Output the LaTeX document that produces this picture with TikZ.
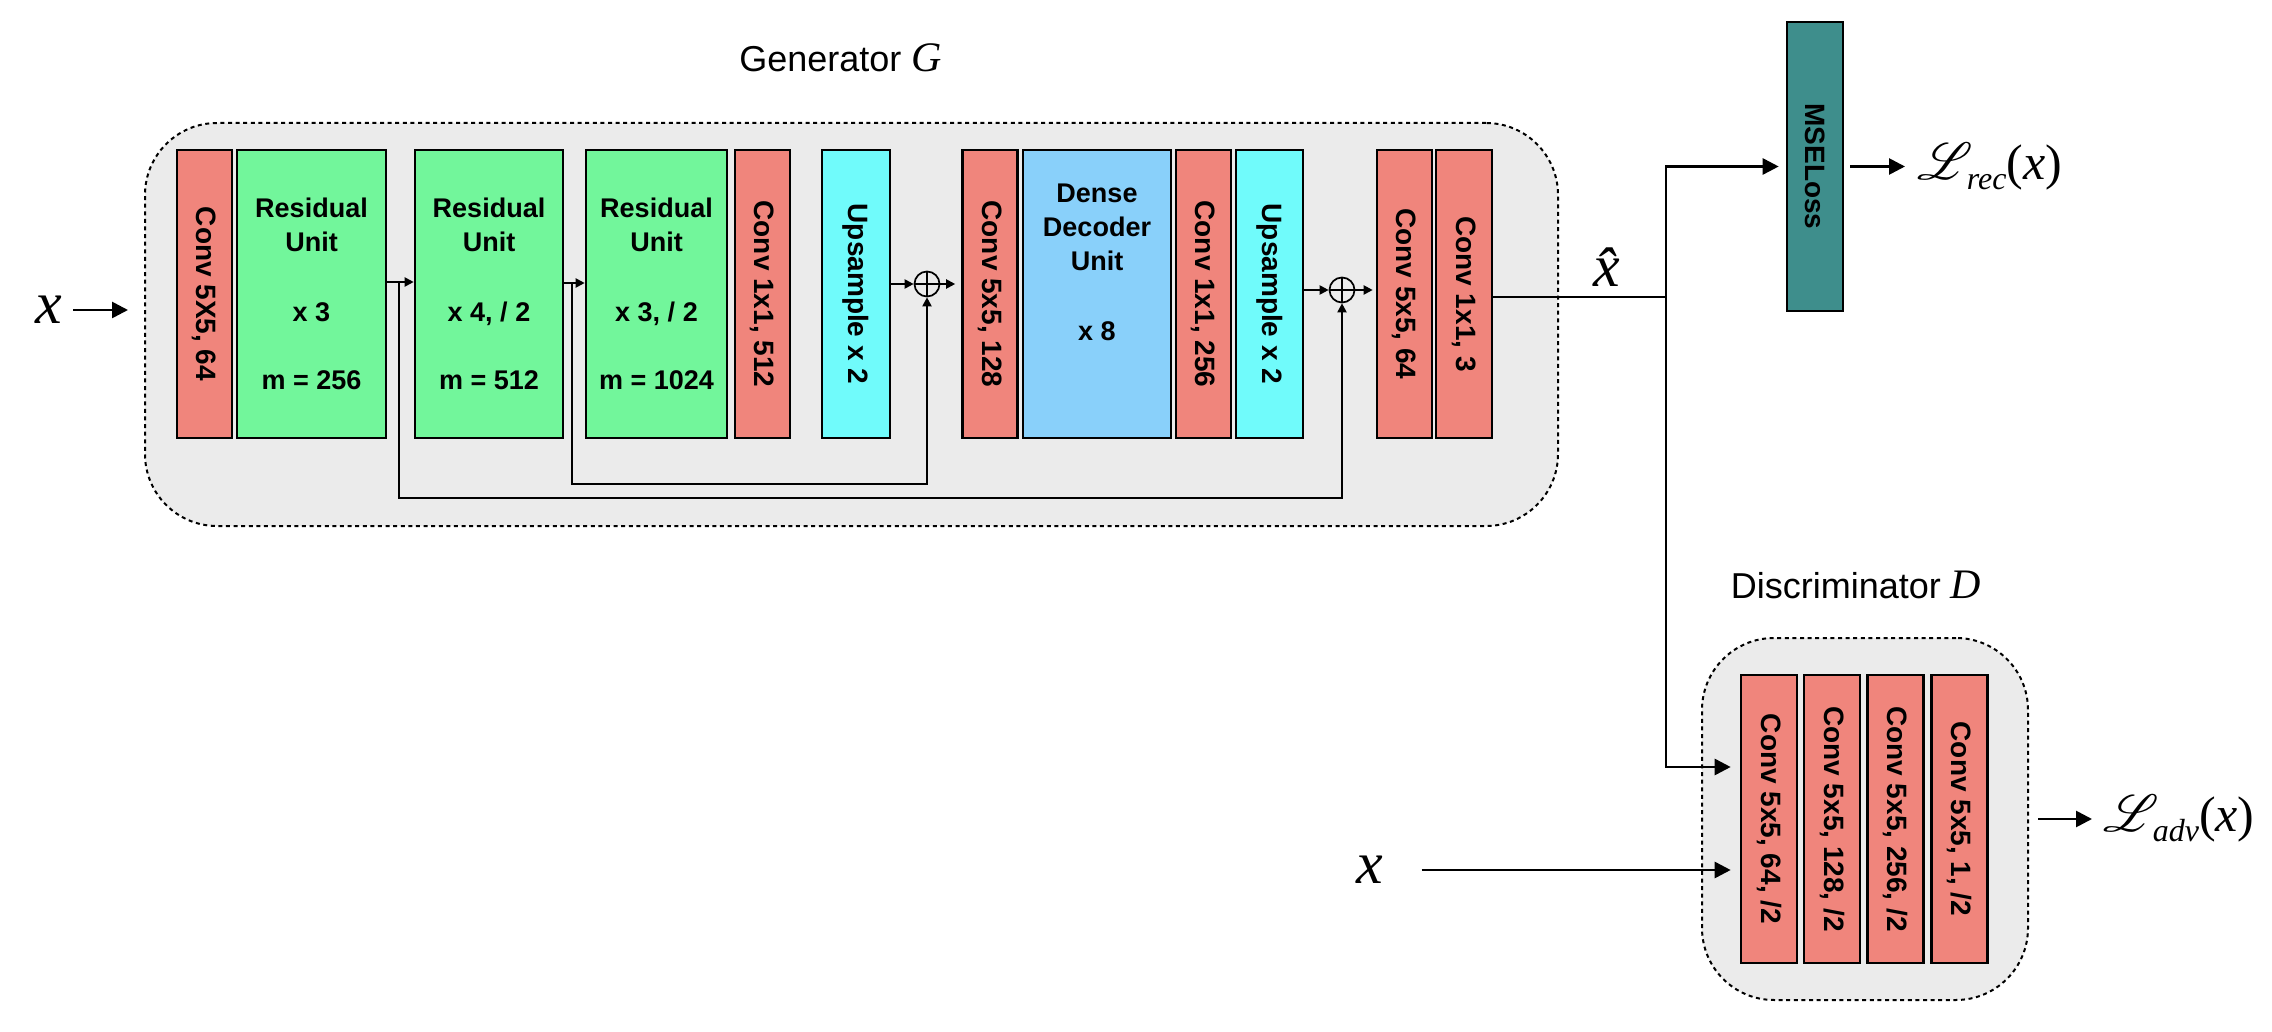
\documentclass[tikz,border=0pt]{standalone}
\usepackage{fontspec}
\setmainfont{Liberation Sans}
\newfontfamily\tms{Liberation Serif}
\usepackage{mathrsfs}
\usepackage{graphicx}
\usetikzlibrary{arrows.meta,calc}
\definecolor{convred}{RGB}{240,133,124}
\definecolor{resgreen}{RGB}{114,246,155}
\definecolor{upcyan}{RGB}{112,251,251}
\definecolor{ddblue}{RGB}{137,208,250}
\definecolor{mseteal}{RGB}{62,142,140}
\definecolor{boxgray}{RGB}{235,235,235}
\newcommand\lossL[1]{\scalebox{2.6}{\fontsize{10}{10}\selectfont$\mathscr{L}$}\kern-3pt\raisebox{-5pt}{\fontsize{16}{16}\selectfont\tms\itshape #1}{\tms(}{\tms\itshape x\/}{\tms)}}
\begin{document}
\begin{tikzpicture}[x=0.5pt,y=-0.5pt,
  blk/.style={draw=black,line width=1.3pt,minimum height=144pt,inner sep=0pt,font=\bfseries\fontsize{13.5}{17}\selectfont,align=center},
  vtxt/.style={label={[rotate=-90,inner sep=0pt,font=\bfseries\fontsize{14}{14}\selectfont]center:{#1}}},
  convblk/.style={blk,fill=convred,minimum width=27.5pt},
  resblk/.style={blk,fill=resgreen,minimum width=#1},
  upsblk/.style={blk,fill=upcyan,minimum width=#1},
  container/.style={draw=black,line width=1pt,dash pattern=on 2pt off 1.8pt,fill=boxgray,rounded corners=36pt,inner sep=0pt},
  oplus/.style={circle,draw=black,line width=0.85pt,minimum size=12.5pt,inner sep=0pt,
    path picture={\draw[line width=0.85pt] (path picture bounding box.north) -- (path picture bounding box.south) (path picture bounding box.west) -- (path picture bounding box.east);}},
  bigline/.style={line width=1.35pt},
  bigarrow/.style={line width=1.35pt,-{Triangle[length=8pt,width=8pt]}},
  smallarrow/.style={line width=1pt,-{Triangle[length=4.5pt,width=4.5pt]}},
  skipline/.style={line width=1pt,-{Triangle[length=4.5pt,width=4.5pt]}},
  mathx/.style={font=\tms\itshape\fontsize{30}{30}\selectfont,inner sep=0pt},
  captext/.style={font=\fontsize{18}{18}\selectfont,inner sep=0pt,anchor=base},
]
\fill[white] (0,0) rectangle (2272,1032);
\useasboundingbox (0,0) rectangle (2272,1032);

% containers
\node[container,minimum width=706.5pt,minimum height=201.5pt] (gen) at (851.5,324.5) {};
\node[container,minimum width=163pt,minimum height=181pt] (disc) at (1865,819) {};
\node[captext] (glab) at (840.5,72) {Generator {\tms\itshape\fontsize{21}{21}\selectfont G}};
\node[captext] (dlab) at (1856,598) {Discriminator {\tms\itshape\fontsize{21}{21}\selectfont D}};

% generator blocks
\node[convblk,vtxt={Conv 5X5, 64}] (c1) at (204.5,294) {};
\node[resblk=74.5pt] (r1) at (311.5,294) {Residual\\Unit\\[18pt]x 3\\[17pt]m = 256};
\node[resblk=74pt] (r2) at (489,294) {Residual\\Unit\\[18pt]x 4, / 2\\[17pt]m = 512};
\node[resblk=70.5pt] (r3) at (656.5,294) {Residual\\Unit\\[18pt]x 3, / 2\\[17pt]m = 1024};
\node[convblk,vtxt={Conv 1x1, 512}] (c2) at (762.5,294) {};
\node[upsblk=34pt,vtxt={Upsample x 2}] (u1) at (856,294) {};
\node[oplus] (o1) at (927,284) {};
\node[convblk,vtxt={Conv 5x5, 128}] (c3) at (990,294) {};
\node[blk,fill=ddblue,minimum width=74pt,label={[align=center,inner sep=0pt,yshift=16pt,font=\bfseries\fontsize{13.5}{17}\selectfont]center:{Dense\\Decoder\\Unit\\[18pt]x 8}}] (dd) at (1097,294) {};
\node[convblk,vtxt={Conv 1x1, 256}] (c4) at (1203.5,294) {};
\node[upsblk=33.5pt,vtxt={Upsample x 2}] (u2) at (1269.5,294) {};
\node[oplus] (o2) at (1342,290) {};
\node[convblk,vtxt={Conv 5x5, 64}] (c5) at (1404.5,294) {};
\node[convblk,minimum width=28pt,vtxt={Conv 1x1, 3}] (c6) at (1464,294) {};

% loss
\node[blk,fill=mseteal,minimum width=28pt,minimum height=144.5pt,vtxt={MSELoss}] (mse) at (1815,166.5) {};

% discriminator blocks
\node[convblk,minimum width=28pt,vtxt={Conv 5x5, 64, /2}] (d1) at (1769,819) {};
\node[convblk,minimum width=28pt,vtxt={Conv 5x5, 128, /2}] (d2) at (1832,819) {};
\node[convblk,minimum width=28pt,vtxt={Conv 5x5, 256, /2}] (d3) at (1895.5,819) {};
\node[convblk,minimum width=28pt,vtxt={Conv 5x5, 1, /2}] (d4) at (1959.5,819) {};

% texts
\node[mathx] (xin) at (48.5,310) {x};
\node[mathx] (xd) at (1370,870) {x};
\node[mathx,anchor=base] (xh) at (1607,287) {\^x};
\coordinate (jn) at (1666,297);
\node[anchor=west,inner sep=0pt,font=\fontsize{25}{25}\selectfont] (lrec) at (1917,166.5) {\lossL{rec}};
\node[anchor=west,inner sep=0pt,font=\fontsize{25}{25}\selectfont] (ladv) at (2103,819) {\lossL{adv}};

% connectors
\draw[bigarrow,shorten <=5.5pt,shorten >=8pt] (xin.east) -- (xin.east -| gen.west);
\draw[smallarrow] ([yshift=6pt]r1.east) -- ([yshift=6pt]r2.west);
\draw[skipline] ([xshift=6pt,yshift=6pt]r1.east) -- ++(0,216) -| (o2.south);
\draw[smallarrow] ([yshift=5.5pt]r2.east) -- ([yshift=5.5pt]r3.west);
\draw[skipline] ([xshift=4pt,yshift=5.5pt]r2.east) -- ++(0,201) -| (o1.south);
\draw[smallarrow] (u1.east |- o1) -- (o1.west);
\draw[smallarrow,shorten >=3pt] (o1.east) -- (c3.west |- o1);
\draw[smallarrow] (u2.east |- o2) -- (o2.west);
\draw[smallarrow,shorten >=1.5pt] (o2.east) -- (c5.west |- o2);
\draw[bigline] (c6.east |- jn) -- (jn);
\draw[bigarrow,shorten >=3.5pt] (jn) |- (mse.west);
\draw[bigarrow,shorten >=4.5pt] (jn) |- ([yshift=26pt]d1.west);
\draw[bigarrow,shorten >=4.5pt] ([xshift=19pt]xd.east) -- ([yshift=-25.5pt]d1.west);
\draw[bigarrow,shorten <=3pt,shorten >=6pt] (mse.east) -- (lrec.west);
\draw[bigarrow,shorten <=4.5pt,shorten >=5.5pt] (disc.east) -- (ladv.west);
\end{tikzpicture}
\end{document}
